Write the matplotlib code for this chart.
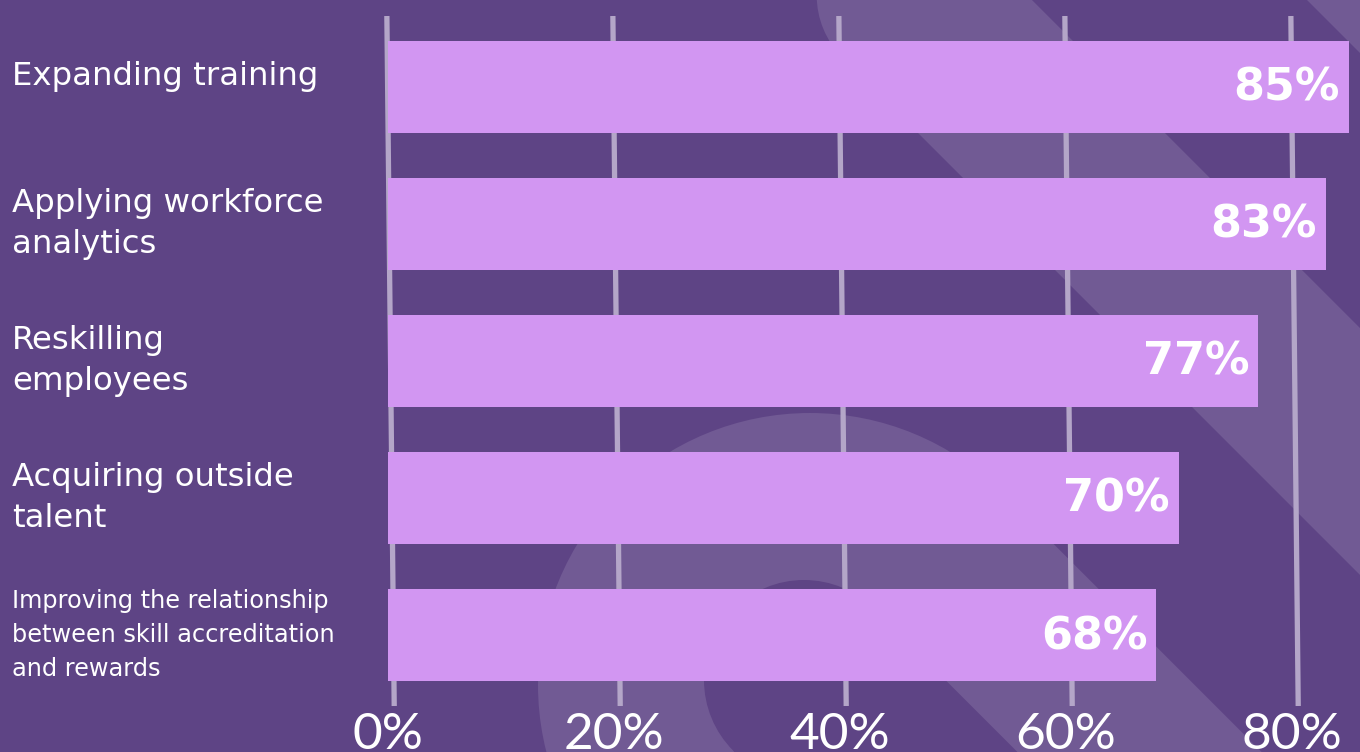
import matplotlib
matplotlib.use("Agg")
import matplotlib.pyplot as plt
import matplotlib.transforms as mtransforms
from matplotlib.patches import Circle, Polygon
import numpy as np

# ---- data ----
categories = [
    "Expanding training",
    "Applying workforce\nanalytics",
    "Reskilling\nemployees",
    "Acquiring outside\ntalent",
    "Improving the relationship\nbetween skill accreditation\nand rewards",
]
values = [85, 83, 77, 70, 68]
ticks = [0, 20, 40, 60, 80]
tick_labels = ["0%", "20%", "40%", "60%", "80%"]

# ---- style ----
BG = "#5E4485"
DECO = "#715A94"
BAR = "#D296F2"
GRID = "#B4A6C8"
W, H = 1360, 752

fig = plt.figure(figsize=(W / 100, H / 100), dpi=100)
fig.patch.set_facecolor(BG)

# background decoration layer in pixel coordinates (y down)
deco = fig.add_axes([0, 0, 1, 1])
deco.set_xlim(0, W)
deco.set_ylim(H, 0)
deco.axis("off")
deco.set_facecolor(BG)


def capsule(ax, cx, cy, r, color, length=1400):
    d = np.array([1, 1]) / np.sqrt(2)
    n = np.array([1, -1]) / np.sqrt(2)
    c = np.array([cx, cy])
    pts = [c + r * n, c + r * n + length * d, c - r * n + length * d, c - r * n]
    ax.add_patch(Circle((cx, cy), r, color=color, lw=0))
    ax.add_patch(Polygon(pts, closed=True, color=color, lw=0))


capsule(deco, 810, 685, 272, DECO)
capsule(deco, 804, 680, 100, BG)
capsule(deco, 904, -4.5, 87.3, DECO)
deco.add_patch(Polygon([(1307, 0), (1555, 0), (2555, 1000), (2307, 1000)],
                       closed=True, color=DECO, lw=0))

# main chart axes
ax = fig.add_axes([0, 0, 1, 1])
ax.patch.set_alpha(0)
px_per_unit = 11.3
x0_px = 388
ax.set_xlim(-x0_px / px_per_unit, (W - x0_px) / px_per_unit)
row_px = 137
first_px = 87
ax.set_ylim((H - first_px) / row_px, -first_px / row_px)
ax.axis("off")

y_top = (16 - first_px) / row_px
y_bot = (706 - first_px) / row_px
for t in ticks:
    ax.plot([t - 0.1, t + 0.55], [y_top, y_bot], color=GRID, lw=3.8,
            solid_capstyle="butt", zorder=1)

idx = np.arange(len(categories))
ax.barh(idx, values, height=92 / row_px, left=0, color=BAR, zorder=2)

for i, v in enumerate(values):
    ax.annotate(f"{v}%", xy=(v, i), xytext=(-9, -14), textcoords="offset pixels",
                ha="right", va="baseline", color="white", fontsize=32,
                fontweight="bold", family="DejaVu Sans", zorder=3)

for t, lab in zip(ticks, tick_labels):
    ax.text(t, (712 - first_px) / row_px, lab, ha="center", va="top",
            color="white", fontsize=37, family="Lato", fontweight="normal",
            zorder=3)

trans = mtransforms.blended_transform_factory(fig.transFigure, ax.transData)
for i, lab in enumerate(categories):
    nlines = lab.count("\n") + 1
    if nlines >= 3:
        fs, ls = 17.3, 1.55
    else:
        fs, ls = 23.3, 1.43
    yy = i - (10 / row_px if nlines == 1 else 0)
    ax.text(12 / W, yy, lab, transform=trans, ha="left", va="center",
            color="white", fontsize=fs, family="DejaVu Sans", linespacing=ls,
            zorder=3)

fig.savefig("out.png", dpi=100, facecolor=BG)
